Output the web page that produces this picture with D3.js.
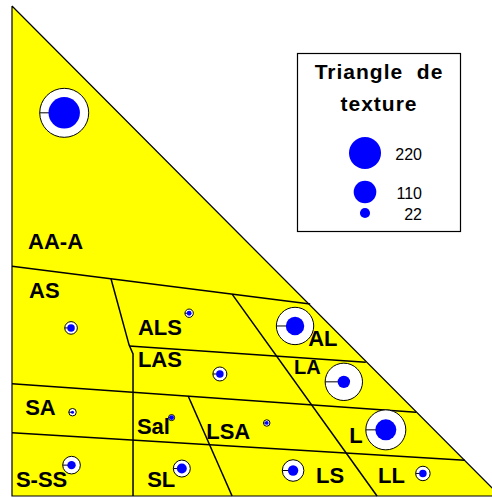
<!DOCTYPE html>
<html>
<head>
<meta charset="utf-8">
<script src="https://cdn.jsdelivr.net/npm/d3@7"></script>
<style>
  body { margin: 0; background: #fff; }
  svg { display: block; }
  .classe { font-family: "Liberation Sans", Arial, sans-serif; font-weight: bold; font-size: 22px; fill: #000; }
</style>
</head>
<body>
<svg id="triangle"></svg>
<script>
// classes de texture (triangle de l'Aisne) : libelles et position du libelle (% limon, % argile)
var classes = ["AA-A", "AS", "ALS", "AL", "LAS", "LA", "SA", "Sal", "LSA", "L", "S-SS", "SL", "LS", "LL"];
var labelLimon  = [3.3, 3.5, 25.8, 60.7, 25.8, 57.8, 2.7, 25.6, 39.8, 69.1, 0.8, 27.7, 62.3, 75.0];
var labelArgile = [50.4, 40.4, 32.9, 30.6, 26.3, 24.9, 16.5, 12.7, 11.6, 10.8, 1.8, 1.8, 2.7, 2.7];

// points moyens par classe (% limon, % argile), effectif (bleu) et total (blanc)
var limon    = [10.7, 12.1, 36.3, 58.0, 42.6, 68.0, 12.4, 32.7, 52.2, 76.6, 12.2, 34.8, 57.6, 84.2];
var argile   = [78.2, 34.3, 37.3, 34.7, 24.9, 23.3, 17.1, 16.0, 14.9, 13.5, 6.3, 5.6, 5.2, 4.6];
var effectif = [212, 12, 5, 73, 12, 33, 2, 5, 3, 95, 15, 21, 23, 12];
var total    = [516, 34, 15, 300, 42, 300, 12, 8, 9, 344, 67, 62, 100, 45];

// limites des classes (% limon, % argile)
var limites = [
  [[0, 46.9], [61.1, 39.2]],
  [[20.3, 44.3], [24.0, 30.8], [24.8, 29.0], [24.8, 0]],
  [[24.0, 30.6], [72.5, 27.3]],
  [[45.1, 41.2], [74.8, 0]],
  [[0, 22.9], [82.8, 17.1]],
  [[36.1, 20.4], [45.1, 0]],
  [[0, 12.9], [92.8, 7.3]]
];

// legende
var legendTitre = ["Triangle  de", "texture"];
var legendValeurs = [220, 110, 22];

var width = 492, height = 497;

var svg = d3.select("#triangle")
    .attr("width", width)
    .attr("height", height);

var x = d3.scaleLinear().domain([0, 100]).range([12, 500]);
var y = d3.scaleLinear().domain([0, 100]).range([496, 6]);
var r = d3.scaleSqrt().domain([0, 220]).range([0, 16]);

var line = d3.line()
    .x(function (d) { return x(d[0]); })
    .y(function (d) { return y(d[1]); });

// le triangle
svg.append("path")
    .datum([[0, 100], [0, 0], [100, 0], [0, 100]])
    .attr("d", line)
    .attr("fill", "#ffff00")
    .attr("stroke", "#000")
    .attr("stroke-width", 1.2);

// limites des classes
svg.selectAll(".limite")
    .data(limites)
    .enter().append("path")
    .attr("class", "limite")
    .attr("d", line)
    .attr("fill", "none")
    .attr("stroke", "#000")
    .attr("stroke-width", 1.5);

// libelles des classes
svg.selectAll(".classe")
    .data(classes)
    .enter().append("text")
    .attr("class", "classe")
    .attr("x", function (d, i) { return x(labelLimon[i]); })
    .attr("y", function (d, i) { return y(labelArgile[i]); })
    .style("font-size", function (d) { return d == "LA" ? "20px" : null; })
    .text(function (d) { return d; });

// symboles
var pts = svg.selectAll(".pt")
    .data(effectif)
    .enter().append("g")
    .attr("class", "pt")
    .attr("transform", function (d, i) {
        return "translate(" + x(limon[i]) + "," + y(argile[i]) + ")";
    });

pts.append("circle")
    .attr("r", function (d, i) { return r(total[i]); })
    .attr("fill", "#fff")
    .attr("stroke", "#000")
    .attr("stroke-width", 1);

pts.append("line")
    .attr("x1", function (d, i) { return -r(total[i]); })
    .attr("x2", 0)
    .attr("stroke", "#000")
    .attr("stroke-width", 1);

pts.append("circle")
    .attr("r", function (d) { return r(d); })
    .attr("fill", "#0000ff");

// legende
var leg = svg.append("g");

leg.append("rect")
    .attr("x", 297.5).attr("y", 53.5)
    .attr("width", 163).attr("height", 178)
    .attr("fill", "#fff")
    .attr("stroke", "#000")
    .attr("stroke-width", 1.2);

leg.selectAll(".titre")
    .data(legendTitre)
    .enter().append("text")
    .attr("class", "titre")
    .attr("x", 379)
    .attr("y", function (d, i) { return 79 + i * 32; })
    .attr("text-anchor", "middle")
    .style("white-space", "pre")
    .style("font-family", "'Liberation Sans', Arial, sans-serif")
    .style("font-weight", "bold")
    .style("font-size", "21px")
    .style("letter-spacing", "1px")
    .text(function (d) { return d; });

var legY = [153, 192, 213];

leg.selectAll(".legc")
    .data(legendValeurs)
    .enter().append("circle")
    .attr("class", "legc")
    .attr("cx", 365)
    .attr("cy", function (d, i) { return legY[i]; })
    .attr("r", function (d) { return r(d); })
    .attr("fill", "#0000ff");

leg.selectAll(".legt")
    .data(legendValeurs)
    .enter().append("text")
    .attr("class", "legt")
    .attr("x", 422)
    .attr("y", function (d, i) { return legY[i] + 7; })
    .attr("text-anchor", "end")
    .style("font-family", "'Liberation Sans', Arial, sans-serif")
    .style("font-size", "16px")
    .text(function (d) { return d; });
</script>
</body>
</html>
